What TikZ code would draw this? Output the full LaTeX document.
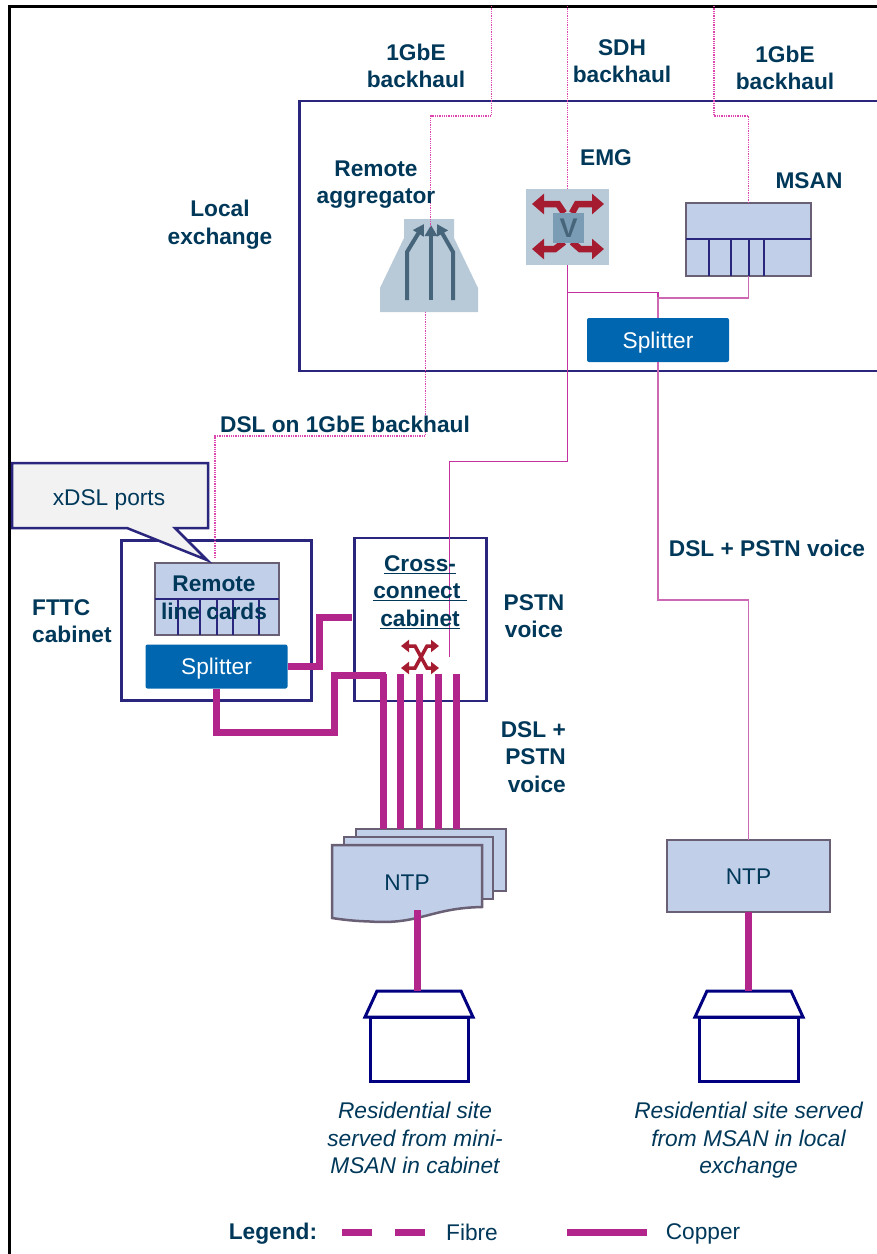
\documentclass[tikz,border=0pt]{standalone}
\usepackage{fontspec}
\usepackage{xcolor}
\usepackage{tikz}
\usetikzlibrary{arrows.meta,calc,positioning}
\setmainfont{Liberation Sans}
\definecolor{inkblue}{RGB}{0,56,90}
\definecolor{boxnavy}{RGB}{42,38,125}
\definecolor{housenavy}{RGB}{0,0,128}
\definecolor{wirepink}{RGB}{178,38,140}
\definecolor{thinpink}{RGB}{195,50,160}
\definecolor{dotpink}{RGB}{222,70,175}
\definecolor{palepink}{RGB}{205,105,180}
\definecolor{splitblue}{RGB}{0,102,176}
\definecolor{cardfill}{RGB}{194,207,232}
\definecolor{cardedge}{RGB}{106,96,118}
\definecolor{steelfill}{RGB}{184,202,216}
\definecolor{steelmid}{RGB}{122,157,181}
\definecolor{steeldark}{RGB}{70,101,122}
\definecolor{crimson}{RGB}{165,28,48}
\newcommand{\basefont}{\fontsize{22.7}{27.5}\selectfont}

\begin{document}
\begin{tikzpicture}[
  x=1pt, y=-1pt,
  lbl/.style={font=\basefont\bfseries, text=inkblue, align=center, inner sep=0pt},
  plain/.style={font=\basefont, text=inkblue, align=center, inner sep=0pt},
  caption/.style={font=\basefont\itshape, text=inkblue, align=center, inner sep=0pt},
  sitebox/.style={draw=boxnavy, line width=2.5pt, inner sep=0pt, outer sep=0pt},
  card/.style={draw=cardedge, fill=cardfill, line width=2.5pt, inner sep=0pt, outer sep=0pt},
  splitbox/.style={fill=splitblue, text=white, font=\basefont, rounded corners=2pt, inner sep=0pt, outer sep=0pt, minimum height=44pt, minimum width=142pt, text height=16pt, text depth=0pt},
  slot/.style={draw=boxnavy, line width=1.5pt},
  fibre/.style={draw=dotpink, line width=1.3pt, densely dotted},
  thinwire/.style={draw=thinpink, line width=1.3pt},
  palewire/.style={draw=palepink, line width=1.3pt},
  copper/.style={draw=wirepink, line width=7pt},
  house/.style={draw=housenavy, line width=3pt, fill=white, inner sep=0pt, outer sep=0pt},
  emgarrow/.style={draw=crimson, line width=6.5pt, -{Triangle[length=12pt,width=20pt]}},
  crossarrow/.style={draw=crimson, line width=3.5pt, {Triangle[length=8pt,width=12pt]}-{Triangle[length=8pt,width=12pt]}},
  aggarrow/.style={draw=steeldark, line width=4pt, -{Triangle[length=11pt,width=12pt]}}
]
\useasboundingbox (0,0) rectangle (877,1254);
\clip (0,0) rectangle (877,1254);
\fill[white] (0,0) rectangle (877,1254);
\draw[line width=3pt] (9.5,1254) -- (9.5,6) -- (877,6);

% exchange and its kit
\node[sitebox, anchor=north west, minimum width=600pt, minimum height=270pt] (exchange) at (299.5,101) {};
\node[card, anchor=north west, minimum width=125pt, minimum height=73pt] (msan) at (686,203) {};
\draw[slot] (msan.west |- 0,239) -- (msan.east |- 0,239);
\foreach \x in {709,731,749,764}
  \draw[slot] (\x,239) -- (\x,276);
\node[fill=steelfill, inner sep=0pt, outer sep=0pt, anchor=north west, minimum width=83pt, minimum height=76pt] (emg) at (526,189) {};
\node[splitbox] (splitex) at (658,340) {Splitter};
\coordinate (aggin) at (430.5,226);
\coordinate (aggout) at (425.5,312);
\fill[steelfill] (404,219) -- (454,219) -- (454,238) -- (478,288) -- (478,312) -- (380,312) -- (380,288) -- (404,238) -- cycle;
\draw[aggarrow] (431,300) -- (431,225);
\draw[aggarrow] (407,300) -- (407,252) -- (424,224);
\draw[aggarrow] (453,300) -- (453,252) -- (437,224);

\draw[emgarrow] (564,213) -- (558,204) -- (532,204);
\draw[emgarrow] (572,213) -- (577,204) -- (604,204);
\draw[emgarrow] (564,242) -- (555,249) -- (532,249);
\draw[emgarrow] (572,242) -- (580,249) -- (604,249);
\node[fill=steelmid, inner sep=0pt, outer sep=0pt, minimum width=31pt, minimum height=30pt, font=\fontsize{27}{27}\selectfont\bfseries, text=steeldark] (emgcore) at (568.5,228) {V};

% cabinets
\node[sitebox, anchor=north west, minimum width=190pt, minimum height=160pt] (fttc) at (121.5,540.5) {};
\node[sitebox, anchor=north west, minimum width=132pt, minimum height=163pt] (xconn) at (354.5,538) {};
\node[card, anchor=north west, minimum width=124pt, minimum height=72pt] (lines) at (155,563) {};
\draw[slot] (lines.west |- 0,599) -- (lines.east |- 0,599);
\foreach \x in {178,200,217,233,259}
  \draw[slot] (\x,599) -- (\x,635);
\node[splitbox, below=9.5pt of lines.south, xshift=-0.5pt] (splitcab) {Splitter};
\draw[crossarrow] (401,646) -- (415,646) -- (427,668) -- (439,668);
\draw[crossarrow] (439,646) -- (427,646) -- (415,668) -- (401,668);

% callout
\coordinate (xdsltip) at (207,560);
\draw[draw=boxnavy, line width=2.5pt, fill=black!5, line join=miter] (12,463) -- (208,463) -- (208,528) -- (175,528) -- (xdsltip) -- (127,528) -- (12,528) -- cycle;
\node[plain] (xdsl) at (109,500) {xDSL ports};

% customer end
\node[card, anchor=north west, minimum width=163pt, minimum height=72pt, font=\basefont, text=inkblue, text height=16pt, text depth=0pt] (ntpright) at (667,840) {NTP};
\draw[card] (356,829) rectangle (506,891);
\draw[card] (344,837) rectangle (493,899);
\draw[card] (332,845) -- (482,845) -- (482,907) .. controls (430,908) and (420,925) .. (370,921.5) .. controls (355,921) and (345,920) .. (332,918) -- cycle;
\node[plain] (ntpleft) at (407,883) {NTP};
\coordinate (ntpstack) at (417,829);
\coordinate (ntpwave) at (417,910);

\node[house, anchor=north west, minimum width=98pt, minimum height=64pt] (homeleft) at (370,1017) {};
\node[house, below=105pt of ntpright.south, minimum width=99pt, minimum height=64pt] (homeright) {};
\draw[house] (365,1017) -- (377,991) -- (461,991) -- (473,1017) -- cycle;
\draw[house] (695,1017) -- (707,991) -- (791,991) -- (803,1017) -- cycle;
\coordinate (roofleft) at (417,991);
\coordinate (roofright) at (749,991);

% fibre runs, dotted
\coordinate (feedleft) at (491.5,6);
\coordinate (feedmid) at (567.5,6);
\coordinate (feedright) at (714,6);
\coordinate (lineport) at (215,559);
\draw[fibre] (feedleft) -- (491.5,116) -| (aggin);
\draw[fibre] (feedmid) -- (emg.north);
\draw[fibre] (feedright) -- (714,116) -| (msan.north);
\draw[fibre] (aggout) |- (lineport |- 0,436) -- (lineport);

% thin wires
\coordinate (pstnend) at (449.5,657);
\coordinate (emgtap) at (567.5,292.5);
\draw[thinwire] (emg.south) -- (567.5,461.5) -| (pstnend);
\draw[thinwire] (emgtap) -| (splitex.north);
\draw[palewire] (msan.south) |- (658,298) -- (splitex.north);
\draw[palewire] (splitex.south) |- (ntpright.north |- 0,600) -- (ntpright.north);

% copper
\draw[copper] (splitcab.east) -- ++(32,0) |- (352,617);
\draw[copper] (splitcab.south) |- (334,732) |- (386,675);
\foreach \x in {383,400,419,438,456}
  \draw[copper] (\x,674) -- (\x,674 |- ntpstack);
\draw[copper] (ntpwave) -- (roofleft);
\draw[copper] (ntpright.south) -- (ntpright.south |- roofright);

% labels
\node[lbl] (backleft) at (416,66) {1GbE\\backhaul};
\node[lbl] (backmid) at (622,61) {SDH\\backhaul};
\node[lbl] (backright) at (785,68) {1GbE\\backhaul};
\node[lbl] (aggname) at (376,184.5) {Remote\\aggregator};
\node[lbl] (emgname) at (606,158) {EMG};
\node[lbl] (msanname) at (809,181) {MSAN};
\node[lbl] (localname) at (220,224.5) {Local\\exchange};
\node[lbl] (dslname) at (345,424) {DSL on 1GbE backhaul};
\node[lbl, align=left, anchor=west] (fttcname) at (32,621) {FTTC\\cabinet};
\node[lbl] (cardname) at (214,598) {Remote\\line cards};
\node[lbl] (xconnname) at (420,592) {\underline{Cross-}\\\underline{connect\ }\\\underline{cabinet}};
\node[lbl] (pstnname) at (534,616) {PSTN\\voice};
\node[lbl, align=right, anchor=east] (dslpstn) at (566,757) {DSL +\\PSTN\\voice};
\node[lbl] (dslright) at (767,548) {DSL + PSTN voice};
\node[caption, below=21pt of homeleft.south, xshift=-4pt] (siteleft) {Residential site\\served from mini-\\MSAN in cabinet};
\node[caption, below=21pt of homeright.south] (siteright) {Residential site served\\from MSAN in local\\exchange};

% legend
\node[lbl] (legendname) at (273,1234) {Legend:};
\coordinate (fibrea) at (342,1232);
\coordinate (fibreb) at (425,1232);
\draw[draw=wirepink, line width=7pt, dash pattern=on 30pt off 23pt] (fibrea) -- (fibreb);
\node[plain] (fibrename) at (472,1232) {Fibre};
\coordinate (coppera) at (567,1232);
\coordinate (copperb) at (647,1232);
\draw[copper] (coppera) -- (copperb);
\node[plain] (coppername) at (703,1234) {Copper};
\end{tikzpicture}
\end{document}
